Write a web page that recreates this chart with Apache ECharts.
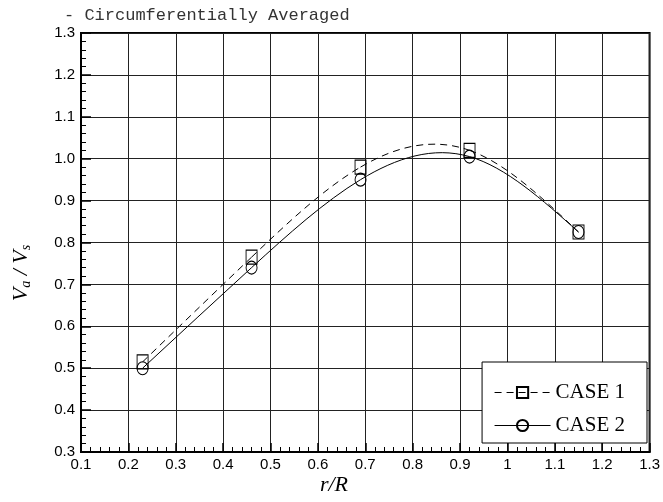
<!DOCTYPE html>
<html><head><meta charset="utf-8">
<script src="https://cdn.jsdelivr.net/npm/echarts@6/dist/echarts.min.js"></script>
<style>html,body{margin:0;padding:0;background:#fff}#c{width:663px;height:502px}</style>
</head><body><div id="c"></div>
<script>
const xValues = [0.23, 0.46, 0.69, 0.92, 1.15];
const case1 = [0.515, 0.765, 0.98, 1.02, 0.825];
const case2 = [0.50, 0.74, 0.95, 1.005, 0.825];
const seriesNames = ['CASE 1', 'CASE 2'];
const titleText = '- Circumferentially Averaged';

const chart = echarts.init(document.getElementById('c'), null, {renderer: 'canvas'});
const pair = (ys) => xValues.map((x, i) => [x, ys[i]]);

// natural cubic spline through the pixel coordinates, drawn as bezier segments
function splineRenderer(ys, dash) {
  return function (params, api) {
    if (params.dataIndex !== 0) return null;
    const P = xValues.map((x, i) => api.coord([x, ys[i]]));
    const n = P.length;
    const h = [], d = [];
    for (let i = 0; i < n - 1; i++) { h.push(P[i+1][0] - P[i][0]); d.push((P[i+1][1] - P[i][1]) / h[i]); }
    const M = new Array(n).fill(0);
    const a = [], b = [], c = [], r = [];
    for (let i = 1; i < n - 1; i++) {
      a.push(h[i-1]); b.push(2 * (h[i-1] + h[i])); c.push(h[i]); r.push(6 * (d[i] - d[i-1]));
    }
    const m = b.length;
    for (let i = 1; i < m; i++) { const w = a[i] / b[i-1]; b[i] -= w * c[i-1]; r[i] -= w * r[i-1]; }
    const sol = new Array(m);
    sol[m-1] = r[m-1] / b[m-1];
    for (let i = m - 2; i >= 0; i--) sol[i] = (r[i] - c[i] * sol[i+1]) / b[i];
    for (let i = 0; i < m; i++) M[i+1] = sol[i];
    const children = [];
    for (let i = 0; i < n - 1; i++) {
      const s0 = d[i] - h[i] * (2 * M[i] + M[i+1]) / 6;
      const s1 = d[i] + h[i] * (M[i] + 2 * M[i+1]) / 6;
      children.push({type: 'bezierCurve', shape: {
        x1: P[i][0], y1: P[i][1], x2: P[i+1][0], y2: P[i+1][1],
        cpx1: P[i][0] + h[i] / 3, cpy1: P[i][1] + s0 * h[i] / 3,
        cpx2: P[i+1][0] - h[i] / 3, cpy2: P[i+1][1] - s1 * h[i] / 3
      }, style: {stroke: '#000', fill: null, lineWidth: 1, lineDash: dash}});
    }
    return {type: 'group', children: children};
  };
}

const tickFont = {fontFamily: 'Liberation Sans', fontSize: 15, color: '#000'};
chart.setOption({
  animation: false,
  backgroundColor: '#fff',
  title: {text: titleText, left: 59, top: 2,
    textStyle: {fontFamily: 'Liberation Mono', fontSize: 17, fontWeight: 'normal', color: '#333'}},
  grid: {left: 81, right: 11, top: 33, bottom: 50, show: true, borderColor: '#000', borderWidth: 2, backgroundColor: 'transparent'},
  legend: {
    data: [
      {name: seriesNames[0], lineStyle: {opacity: 1, width: 1, color: '#000', type: [7, 5]}},
      {name: seriesNames[1], lineStyle: {opacity: 1, width: 1, color: '#000', type: 'solid'}}
    ],
    orient: 'vertical', right: 16, bottom: 59,
    backgroundColor: '#fff', borderColor: '#000', borderWidth: 1,
    padding: [20, 22, 7, 12], itemGap: 12, itemWidth: 56, itemHeight: 14,
    textStyle: {fontFamily: 'Liberation Serif', fontSize: 21, color: '#000'}
  },
  graphic: [
    {type: 'text', x: 334, y: 485, style: {text: 'r/R', align: 'center', verticalAlign: 'middle',
      font: 'italic 22px "Liberation Serif"', fill: '#000'}},
    {type: 'text', x: 21, y: 273, rotation: Math.PI / 2, style: {
      text: '{i|V}{s|a}{i| / V}{s|s}', align: 'center', verticalAlign: 'middle',
      rich: {
        i: {fontFamily: 'Liberation Serif', fontStyle: 'italic', fontSize: 22, fill: '#000'},
        s: {fontFamily: 'Liberation Serif', fontStyle: 'italic', fontSize: 14, fill: '#000', padding: [10, 0, 0, 0]}
      }}}
  ],
  xAxis: {
    type: 'value', min: 0.1, max: 1.3, interval: 0.1,
    axisLine: {show: true, lineStyle: {color: '#000', width: 2}},
    axisTick: {show: true, inside: true, length: 9, lineStyle: {color: '#000', width: 1.5}},
    minorTick: {show: true, splitNumber: 5, length: 5, lineStyle: {color: '#000', width: 1}},
    splitLine: {show: true, lineStyle: {color: '#222', width: 1}},
    axisLabel: Object.assign({margin: 5, formatter: v => String(Math.round(v * 10) / 10)}, tickFont)
  },
  yAxis: {
    type: 'value', min: 0.3, max: 1.3, interval: 0.1,
    axisLine: {show: true, lineStyle: {color: '#000', width: 2}},
    axisTick: {show: true, inside: true, length: 10, lineStyle: {color: '#000', width: 1.5}},
    minorTick: {show: true, splitNumber: 5, length: 5, lineStyle: {color: '#000', width: 1}},
    splitLine: {show: true, lineStyle: {color: '#222', width: 1}},
    axisLabel: Object.assign({margin: 6, formatter: v => (Math.round(v * 10) / 10).toFixed(1)}, tickFont)
  },
  series: [
    {type: 'custom', data: pair(case1), renderItem: splineRenderer(case1, [7, 5]), silent: true, z: 2},
    {type: 'custom', data: pair(case2), renderItem: splineRenderer(case2, null), silent: true, z: 2},
    {name: seriesNames[0], type: 'line', data: pair(case1),
     symbol: 'rect', symbolSize: [11, 14], z: 3,
     lineStyle: {color: '#000', width: 1, opacity: 0},
     itemStyle: {color: 'rgba(255,255,255,0)', borderColor: '#000', borderWidth: 1}},
    {name: seriesNames[1], type: 'line', data: pair(case2),
     symbol: 'circle', symbolSize: [11, 13], z: 3,
     lineStyle: {color: '#000', width: 1, opacity: 0},
     itemStyle: {color: 'rgba(255,255,255,0)', borderColor: '#000', borderWidth: 1}}
  ]
});
</script></body></html>
